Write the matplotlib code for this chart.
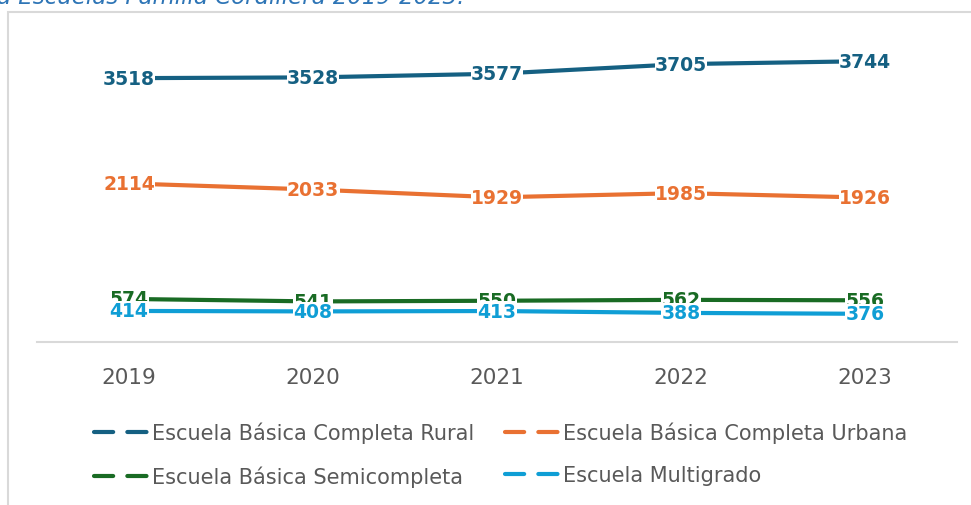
import matplotlib.pyplot as plt
from matplotlib.lines import Line2D
from matplotlib.patches import Rectangle

years = ["2019", "2020", "2021", "2022", "2023"]
rural = [3518, 3528, 3577, 3705, 3744]
urbana = [2114, 2033, 1929, 1985, 1926]
semicompleta = [574, 541, 550, 562, 556]
multigrado = [414, 408, 413, 388, 376]

series_names = ["Escuela Básica Completa Rural", "Escuela Básica Completa Urbana",
                "Escuela Básica Semicompleta", "Escuela Multigrado"]
series_colors = ["#156082", "#E97132", "#196B24", "#0F9ED5"]

fig = plt.figure(figsize=(9.71, 5.06), dpi=100)

# outer chart frame (partially cut off on right/bottom)
fig.patches.append(Rectangle((8 / 971, -0.1), 1.2, (506 - 13) / 506 + 0.1,
                             transform=fig.transFigure, fill=False,
                             edgecolor="#D9D9D9", lw=1.5))
# clipped title from above
fig.text(-3 / 971, 1 + 3 / 506, "a Escuelas Familia Cordillera 2019-2023.",
         color="#2E75B6", style="italic", fontsize=16.5, va="center", ha="left")

ax = fig.add_axes([37 / 971, 1 - 343 / 506, (957 - 37) / 971, (343 - 43) / 506])
x = list(range(len(years)))
for vals, name, col in zip([rural, urbana, semicompleta, multigrado], series_names, series_colors):
    ax.plot(x, vals, color=col, lw=3, solid_capstyle="round", label=name, zorder=2)
    for xi, v in zip(x, vals):
        ax.text(xi, v, str(v), color=col, fontsize=13.5, fontweight="bold",
                ha="center", va="center", zorder=3,
                bbox=dict(facecolor="white", edgecolor="none", pad=0.3))

ax.set_xlim(-0.5, len(years) - 0.5)
ax.set_ylim(0, 4000)
ax.set_xticks(x)
ax.set_xticklabels(years, fontsize=15.5, color="#595959")
ax.tick_params(axis="x", length=0, pad=18)
ax.set_yticks([])
for s in ["top", "right", "left"]:
    ax.spines[s].set_visible(False)
ax.spines["bottom"].set_color("#D9D9D9")
ax.spines["bottom"].set_linewidth(1.5)

# legend fills row by row in the reference
order = [0, 2, 1, 3]
handles = [Line2D([0], [0], color=series_colors[i], lw=3, dashes=(4.6, 3.4),
                  dash_capstyle="round") for i in order]
labels = [series_names[i] for i in order]
fig.legend(handles, labels, loc="upper left", bbox_to_anchor=(94 / 971, 1 - 423 / 506),
           ncol=2, frameon=False, fontsize=15, labelcolor="#595959",
           handlelength=2.75, handletextpad=0.05, columnspacing=1.45, labelspacing=1.05,
           borderpad=0, borderaxespad=0)

fig.savefig("out.png", dpi=100)
